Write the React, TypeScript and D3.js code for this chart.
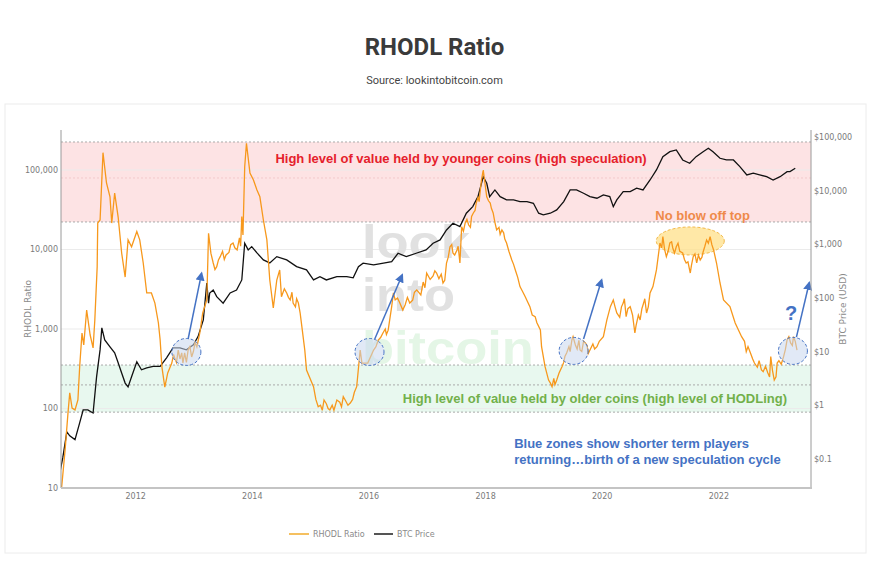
import React from 'react';
import * as d3 from 'd3';

// RHODL ratio readings [decimal year, ratio]
const rhodl: [number, number][] = [
  [2010.73, 10], [2010.79, 30], [2010.84, 88], [2010.87, 157], [2010.91, 101],
  [2010.96, 96], [2011.01, 128], [2011.04, 333], [2011.08, 890], [2011.11, 630],
  [2011.16, 1730], [2011.22, 840], [2011.27, 577], [2011.3, 1300], [2011.34, 6000],
  [2011.35, 21500], [2011.39, 23500], [2011.44, 165000], [2011.5, 68600], [2011.56, 46000],
  [2011.59, 21500], [2011.64, 51400], [2011.7, 25600], [2011.76, 9040], [2011.82, 4500],
  [2011.87, 13200], [2011.93, 10800], [2012.02, 16800], [2012.07, 13200], [2012.13, 6760],
  [2012.19, 2840], [2012.27, 2840], [2012.33, 2120], [2012.39, 1190], [2012.42, 727],
  [2012.45, 333], [2012.5, 186], [2012.55, 280], [2012.59, 330], [2012.62, 373],
  [2012.65, 480], [2012.67, 431], [2012.7, 380], [2012.73, 544], [2012.76, 420],
  [2012.79, 500], [2012.81, 373], [2012.84, 500], [2012.87, 380], [2012.9, 544],
  [2012.93, 600], [2012.96, 445], [2012.99, 520], [2013.02, 680], [2013.05, 594],
  [2013.1, 891], [2013.15, 1590], [2013.22, 2320], [2013.25, 16000], [2013.29, 9000],
  [2013.33, 6760], [2013.36, 5600], [2013.39, 6080], [2013.42, 7400], [2013.45, 8120],
  [2013.49, 9500], [2013.52, 7500], [2013.55, 8530], [2013.6, 9200], [2013.63, 11500],
  [2013.67, 12080], [2013.7, 10500], [2013.74, 9860], [2013.78, 14000], [2013.8, 11000],
  [2013.82, 25900], [2013.84, 15200], [2013.87, 110000], [2013.9, 217000], [2013.96, 91700],
  [2014.02, 74800], [2014.08, 56000], [2014.13, 46000], [2014.19, 23500], [2014.25, 13200],
  [2014.3, 4130], [2014.36, 1840], [2014.42, 4130], [2014.47, 5530], [2014.5, 2550],
  [2014.55, 3200], [2014.59, 2840], [2014.62, 2500], [2014.65, 2320], [2014.68, 2900],
  [2014.7, 2120], [2014.74, 1900], [2014.76, 2400], [2014.79, 2120], [2014.82, 1600],
  [2014.85, 1070], [2014.9, 544], [2014.93, 305], [2015.05, 188], [2015.09, 130],
  [2015.13, 105], [2015.17, 110], [2015.2, 95], [2015.23, 128], [2015.27, 115],
  [2015.3, 100], [2015.33, 96], [2015.37, 110], [2015.4, 95], [2015.45, 128],
  [2015.5, 120], [2015.53, 105], [2015.56, 141], [2015.6, 125], [2015.64, 110],
  [2015.68, 117], [2015.72, 130], [2015.75, 160], [2015.79, 188], [2015.85, 544],
  [2015.88, 373], [2015.98, 373], [2016.08, 544], [2016.12, 600], [2016.16, 727],
  [2016.2, 780], [2016.24, 891], [2016.28, 1000], [2016.3, 850], [2016.33, 966],
  [2016.39, 1910], [2016.42, 2840], [2016.45, 2320], [2016.49, 2450], [2016.53, 2120],
  [2016.58, 1730], [2016.62, 2000], [2016.66, 2500], [2016.7, 2120], [2016.75, 2300],
  [2016.78, 2900], [2016.82, 3100], [2016.89, 2680], [2016.93, 3900], [2016.96, 3300],
  [2016.99, 5060], [2017.05, 4200], [2017.1, 4640], [2017.13, 5400], [2017.16, 5060],
  [2017.2, 4300], [2017.24, 4900], [2017.27, 3790], [2017.3, 4100], [2017.33, 6760],
  [2017.36, 8000], [2017.39, 10800], [2017.42, 11500], [2017.44, 9040], [2017.47, 8500],
  [2017.51, 9860], [2017.53, 11000], [2017.56, 6760], [2017.59, 19350], [2017.62, 17000],
  [2017.65, 21500], [2017.68, 24000], [2017.71, 20300], [2017.74, 19000], [2017.76, 26000],
  [2017.79, 28800], [2017.82, 31000], [2017.84, 38400], [2017.87, 45000], [2017.89, 40000],
  [2017.91, 56000], [2017.93, 75000], [2017.96, 100000], [2018.02, 46000], [2018.05, 41000],
  [2018.08, 38400], [2018.1, 33000], [2018.13, 28800], [2018.16, 22000], [2018.19, 17600],
  [2018.23, 19000], [2018.25, 15500], [2018.28, 17600], [2018.31, 16200], [2018.33, 13500],
  [2018.36, 12080], [2018.4, 9500], [2018.45, 7380], [2018.48, 6500], [2018.51, 5530],
  [2018.55, 4500], [2018.59, 3410], [2018.63, 3000], [2018.68, 2550], [2018.72, 2200],
  [2018.76, 1910], [2018.8, 1500], [2018.85, 1430], [2018.88, 1200], [2018.94, 971],
  [2018.96, 599], [2019.02, 336], [2019.08, 228], [2019.11, 210], [2019.14, 188],
  [2019.17, 240], [2019.19, 200], [2019.22, 228], [2019.26, 280], [2019.31, 336],
  [2019.34, 380], [2019.36, 450], [2019.39, 499], [2019.43, 600], [2019.45, 520],
  [2019.48, 727], [2019.5, 800], [2019.54, 630], [2019.57, 560], [2019.6, 720],
  [2019.62, 544], [2019.65, 520], [2019.68, 700], [2019.71, 667], [2019.74, 620],
  [2019.76, 490], [2019.79, 544], [2019.84, 650], [2019.87, 560], [2019.91, 599],
  [2019.95, 700], [2020.02, 800], [2020.08, 1300], [2020.14, 1910], [2020.19, 2320],
  [2020.22, 1900], [2020.25, 1590], [2020.3, 1400], [2020.33, 1900], [2020.36, 2120],
  [2020.38, 2400], [2020.41, 1430], [2020.44, 1800], [2020.48, 1910], [2020.52, 1500],
  [2020.56, 891], [2020.58, 1100], [2020.62, 1500], [2020.65, 1300], [2020.68, 1800],
  [2020.71, 2120], [2020.73, 2400], [2020.76, 1590], [2020.79, 1900], [2020.82, 2840],
  [2020.87, 3410], [2020.93, 5530], [2020.99, 12080], [2021.02, 10500], [2021.04, 14500],
  [2021.07, 10000], [2021.1, 8120], [2021.13, 9500], [2021.16, 12080], [2021.19, 12500],
  [2021.21, 10450], [2021.24, 9000], [2021.27, 10800], [2021.3, 12000], [2021.33, 9500],
  [2021.38, 9040], [2021.41, 7500], [2021.44, 6760], [2021.47, 7000], [2021.51, 5060],
  [2021.53, 6300], [2021.56, 8120], [2021.59, 8800], [2021.62, 6800], [2021.65, 8500],
  [2021.68, 7380], [2021.71, 8000], [2021.73, 9300], [2021.76, 11000], [2021.79, 13200],
  [2021.82, 12000], [2021.85, 14500], [2021.88, 11500], [2021.91, 9860], [2021.96, 6760],
  [2022.02, 3790], [2022.08, 2320], [2022.19, 1910], [2022.28, 1190], [2022.39, 800],
  [2022.44, 700], [2022.47, 520], [2022.5, 600], [2022.55, 480], [2022.58, 420],
  [2022.61, 373], [2022.66, 330], [2022.69, 400], [2022.73, 305], [2022.76, 290],
  [2022.8, 340], [2022.84, 280], [2022.87, 250], [2022.89, 449], [2022.92, 300],
  [2022.95, 228], [2022.98, 250], [2023.0, 373], [2023.03, 400], [2023.07, 360],
  [2023.11, 449], [2023.14, 550], [2023.17, 727], [2023.2, 800], [2023.23, 667],
  [2023.26, 620], [2023.28, 800], [2023.31, 700], [2023.34, 544],
];

// BTC price readings [decimal year, USD]
const btc: [number, number][] = [
  [2010.7, 0.055], [2010.75, 0.105], [2010.82, 0.32], [2010.87, 0.27], [2010.96, 0.23],
  [2011.04, 0.47], [2011.1, 0.82], [2011.18, 0.82], [2011.27, 0.72], [2011.33, 3.4],
  [2011.39, 10.8], [2011.42, 27.7], [2011.47, 16.6], [2011.56, 12.3], [2011.64, 9.5],
  [2011.7, 6.2], [2011.76, 4.0], [2011.82, 2.6], [2011.87, 2.2], [2011.93, 3.4],
  [2012.02, 6.5], [2012.1, 4.6], [2012.19, 5.0], [2012.3, 5.3], [2012.42, 5.3],
  [2012.53, 7.7], [2012.64, 11.8], [2012.76, 11.8], [2012.87, 10.8], [2012.99, 13.4],
  [2013.07, 19.1], [2013.16, 39], [2013.22, 189], [2013.25, 80], [2013.27, 124],
  [2013.33, 141], [2013.39, 106], [2013.5, 80], [2013.62, 124], [2013.73, 141],
  [2013.82, 217], [2013.87, 1050], [2013.93, 787], [2013.99, 906], [2014.08, 692],
  [2014.19, 513], [2014.3, 451], [2014.42, 590], [2014.59, 513], [2014.76, 384],
  [2014.93, 334], [2015.05, 217], [2015.16, 250], [2015.27, 217], [2015.45, 250],
  [2015.62, 250], [2015.73, 237], [2015.82, 384], [2015.9, 445], [2016.08, 413],
  [2016.25, 445], [2016.39, 476], [2016.5, 682], [2016.64, 590], [2016.81, 682],
  [2016.98, 787], [2017.1, 1050], [2017.22, 1210], [2017.33, 1850], [2017.44, 2470],
  [2017.56, 2140], [2017.67, 3800], [2017.78, 5040], [2017.87, 7730], [2017.96, 18200],
  [2018.02, 13700], [2018.07, 7730], [2018.16, 10300], [2018.25, 7730], [2018.36, 6710],
  [2018.48, 6710], [2018.59, 6240], [2018.71, 6240], [2018.82, 5820], [2018.91, 3800],
  [2018.99, 3530], [2019.11, 3800], [2019.22, 4370], [2019.34, 6240], [2019.45, 10300],
  [2019.56, 10300], [2019.68, 8950], [2019.79, 7730], [2019.91, 7220], [2020.02, 8310],
  [2020.13, 7730], [2020.19, 5040], [2020.25, 6710], [2020.36, 9570], [2020.48, 9570],
  [2020.59, 11100], [2020.7, 10300], [2020.82, 15800], [2020.93, 24300], [2021.04, 43000],
  [2021.16, 53200], [2021.27, 57300], [2021.38, 37300], [2021.5, 32400], [2021.61, 43000],
  [2021.73, 53200], [2021.82, 61600], [2021.9, 53200], [2022.02, 40100], [2022.13, 37300],
  [2022.25, 37300], [2022.36, 28000], [2022.48, 19600], [2022.59, 21100], [2022.7, 19600],
  [2022.82, 18200], [2022.93, 15800], [2023.05, 18200], [2023.17, 22600], [2023.22, 22600],
  [2023.31, 26100],
];

const yearTicks = [2012, 2014, 2016, 2018, 2020, 2022];
const ratioTicks = [10, 100, 1000, 10000, 100000];
const priceTicks = [0.1, 1, 10, 100, 1000, 10000, 100000];

// zones on the ratio axis [bottom, top, middle dashed line]
const speculationBand = [22200, 225000, 79300];
const hodlBand = [90, 352, 198];

// blue zones [year, ratio] and their arrows [fromYear, fromRatio, toYear, toRatio]
const blueZones: [number, number][] = [[2012.87, 514], [2016.01, 514], [2019.51, 530], [2023.27, 530]];
const blueArrows: [number, number, number, number][] = [
  [2012.9, 748, 2013.13, 5020],
  [2016.1, 748, 2016.57, 4780],
  [2019.68, 748, 2019.99, 4130],
  [2023.33, 790, 2023.55, 3820],
];
const noBlowOff: [number, number] = [2021.51, 12800];

const W = 869;
const H = 567;
const L = 61, R = 811, T = 130, B = 488;
const tickFont = 'DejaVu Sans, Verdana, sans-serif';
const noteFont = 'Liberation Sans, Arial, sans-serif';

export default function App() {
  const x = d3.scaleLinear().domain([2010.72, 2023.58]).range([L, R]);
  const yL = d3.scaleLog().domain([10, Math.pow(10, 5.503)]).range([B, T]);
  const yR = d3.scaleLog().domain([Math.pow(10, -1.54), Math.pow(10, 5.13)]).range([B, T]);

  const rhodlLine = d3.line<[number, number]>().x((d) => x(d[0])).y((d) => yL(d[1]));
  const btcLine = d3.line<[number, number]>().x((d) => x(d[0])).y((d) => yR(d[1]));
  const fmt = d3.format(',');
  const wmX = x(2015.88);

  return (
    <svg width={W} height={H} style={{ position: 'absolute', left: 0, top: 0, background: '#fff' }}>
      <defs>
        <clipPath id="plot">
          <rect x={L} y={T} width={R - L} height={B - T} />
        </clipPath>
        <marker id="arrow" viewBox="0 0 10 10" refX="8" refY="5" markerWidth="6" markerHeight="6" orient="auto">
          <path d="M0,0 L10,5 L0,10 z" fill="#4472c4" />
        </marker>
      </defs>

      <text x={W / 2} y={55} textAnchor="middle" fontFamily="Roboto, sans-serif" fontWeight="700" fontSize={24} fill="#3a3a3a">
        RHODL Ratio
      </text>
      <text x={W / 2} y={84} textAnchor="middle" fontFamily="Roboto, sans-serif" fontSize={11} fill="#444">
        Source: lookintobitcoin.com
      </text>

      <rect x={5} y={104} width={861} height={449} fill="none" stroke="#ececec" />

      {/* zones */}
      <rect x={L} y={yL(speculationBand[1])} width={R - L} height={yL(speculationBand[0]) - yL(speculationBand[1])} fill="#fde3e4" />
      <rect x={L} y={yL(hodlBand[1])} width={R - L} height={yL(hodlBand[0]) - yL(hodlBand[1])} fill="#e8f8ef" />

      {/* grid */}
      {ratioTicks.slice(1).map((t) => (
        <line key={t} x1={L} x2={R} y1={yL(t)} y2={yL(t)} stroke="#ebebeb" />
      ))}
      {[...speculationBand, ...hodlBand].map((v, i) => (
        <line key={'d' + i} x1={L} x2={R} y1={yL(v)} y2={yL(v)} stroke={i === 2 ? '#f3c9cb' : '#aaa'} strokeDasharray="2,2" />
      ))}

      {/* watermark */}
      <g fontFamily={noteFont} fontWeight="700" fontSize={47}>
        <text x={wmX} y={258} fill="#e1e1e1" textLength={108} lengthAdjust="spacingAndGlyphs">look</text>
        <text x={wmX} y={311} fill="#e1e1e1" textLength={93} lengthAdjust="spacingAndGlyphs">into</text>
        <text x={wmX} y={364} fill="#e4f6e6" textLength={172} lengthAdjust="spacingAndGlyphs">bitcoin</text>
      </g>

      <ellipse cx={x(noBlowOff[0])} cy={yL(noBlowOff[1])} rx={34} ry={14} fill="#ffe08a" fillOpacity={0.75} stroke="#f2b94a" strokeDasharray="3,2" />

      <g clipPath="url(#plot)">
        <path d={btcLine(btc) ?? ''} fill="none" stroke="#111" strokeWidth={1.3} />
        <path d={rhodlLine(rhodl) ?? ''} fill="none" stroke="#f7981c" strokeWidth={1.3} />
      </g>

      {blueZones.map((d, i) => (
        <ellipse key={i} cx={x(d[0])} cy={yL(d[1])} rx={14.5} ry={13.5} fill="#c9d7ee" fillOpacity={0.55} stroke="#4472c4" strokeDasharray="3,2" />
      ))}
      {blueArrows.map((a, i) => (
        <line key={i} x1={x(a[0])} y1={yL(a[1])} x2={x(a[2])} y2={yL(a[3])} stroke="#4472c4" strokeWidth={1.5} markerEnd="url(#arrow)" />
      ))}

      {/* annotations */}
      <g fontFamily={noteFont} fontWeight="700" fontSize={13}>
        <text x={x(2017.58)} y={yL(122000)} textAnchor="middle" fill="#e5202b">
          High level of value held by younger coins (high speculation)
        </text>
        <text x={x(2020.91)} y={yL(23500)} fill="#ef8a4a">No blow off top</text>
        <text x={x(2016.58)} y={yL(117)} fill="#72b04a">
          High level of value held by older coins (high level of HODLing)
        </text>
        <text x={x(2018.49)} y={yL(31.8)} fill="#4472c4">
          <tspan>Blue zones show shorter term players</tspan>
          <tspan x={x(2018.49)} dy={16}>returning…birth of a new speculation cycle</tspan>
        </text>
        <text x={x(2023.24)} y={yL(1300)} textAnchor="middle" fontSize={20} fill="#4472c4">?</text>
      </g>

      {/* axes */}
      <line x1={L} x2={L} y1={T} y2={B} stroke="#9a9a9a" />
      <line x1={R} x2={R} y1={T} y2={B} stroke="#9a9a9a" />
      <line x1={L} x2={R + 1} y1={B} y2={B} stroke="#c4c4c4" strokeWidth={2} />

      <g fontFamily={tickFont} fontSize={8} fill="#7a7a7a">
        {ratioTicks.map((t) => (
          <text key={t} x={L - 3} y={yL(t) + 3} textAnchor="end">{fmt(t)}</text>
        ))}
        {priceTicks.map((t) => (
          <text key={t} x={R + 3} y={yR(t) + 3}>{'$' + (t < 1 ? String(t) : fmt(t))}</text>
        ))}
        {yearTicks.map((t) => (
          <text key={t} x={x(t)} y={499} textAnchor="middle">{t}</text>
        ))}
      </g>
      <g fontFamily={tickFont} fontSize={9} fill="#8a8a8a">
        <text transform={`translate(31,${(T + B) / 2}) rotate(-90)`} textAnchor="middle">RHODL Ratio</text>
        <text transform={`translate(846,${(T + B) / 2}) rotate(-90)`} textAnchor="middle">BTC Price (USD)</text>
      </g>

      {/* legend */}
      <g fontFamily={tickFont} fontSize={8} fill="#8a8a8a">
        <line x1={289} x2={309} y1={534} y2={534} stroke="#f5c060" strokeWidth={2} />
        <text x={313} y={537}>RHODL Ratio</text>
        <line x1={374} x2={393} y1={534} y2={534} stroke="#555" strokeWidth={2} />
        <text x={397} y={537}>BTC Price</text>
      </g>
    </svg>
  );
}
